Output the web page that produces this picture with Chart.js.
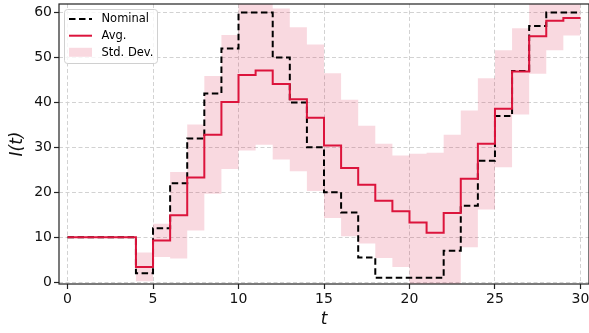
<!DOCTYPE html>
<html>
<head>
<meta charset="utf-8">
<script src="https://cdn.jsdelivr.net/npm/chart.js@4.4.1/dist/chart.umd.min.js"></script>
<style>
  html, body { margin: 0; padding: 0; background: #fff; }
  canvas { display: block; }
</style>
</head>
<body>
<canvas id="chart" width="589" height="333"></canvas>
<script>
// step edges (t) and tick labels
const tEdges = [0,1,2,3,4,5,6,7,8,9,10,11,12,13,14,15,16,17,18,19,20,21,22,23,24,25,26,27,28,29,30]
const xTicks = [0,5,10,15,20,25,30]
const yTicks = [0,10,20,30,40,50,60]

// one value per interval [t, t+1)
const nominal = [10,10,10,10,2,12,22,32,42,52,60,60,50,40,30,20,15.5,5.5,1,1,1,1,7,17,27,37,47,57,60,60]
const avg = [10,10,10,10,3.4,9.3,14.9,23.3,32.8,40.1,46.1,47.1,44.1,40.7,36.6,30.4,25.4,21.7,18.1,15.8,13.3,11.0,15.4,23.0,30.8,38.6,46.9,54.7,58.2,58.8]
const stdDev = [0,0,0,0,3.2,3.7,9.6,11.8,13.1,14.9,16.8,16.5,16.8,16.0,16.3,16.1,15.2,13.1,12.7,12.4,15.3,17.8,17.4,15.2,14.6,13.0,9.6,8.3,6.6,3.9]

const crimson = '#dc143c'
const bandColor = 'rgba(220,20,60,0.16)'

// value i holds on [t_i, t_i+1): points sit on the edges, step drawn horizontal first
function stepPoints(vals) {
    return tEdges.map((t, i) => ({ x: t, y: vals[Math.min(i, vals.length - 1)] }))
}
const upper = avg.map((v, i) => v + stdDev[i])
const lower = avg.map((v, i) => v - stdDev[i])

Chart.defaults.font.family = 'DejaVu Sans'
Chart.defaults.color = '#111'

// matplotlib-like frame (all four spines)
const frame = {
    id: 'frame',
    afterDatasetsDraw(chart) {
        const { ctx, chartArea: a } = chart
        ctx.save()
        ctx.strokeStyle = '#222'
        ctx.lineWidth = 1.2
        ctx.strokeRect(a.left, a.top, a.right - a.left, a.bottom - a.top)
        ctx.restore()
    }
}

// legend box drawn the way matplotlib does it
const mplLegend = {
    id: 'mplLegend',
    afterDraw(chart) {
        const ctx = chart.ctx
        const ds = chart.data.datasets
        ctx.save()
        ctx.beginPath()
        ctx.roundRect(64.5, 9.5, 93, 54, 3)
        ctx.fillStyle = 'rgba(255,255,255,0.8)'
        ctx.fill()
        ctx.strokeStyle = '#d0d0d0'
        ctx.lineWidth = 1
        ctx.stroke()

        const rows = [19, 35.7, 52.3]
        const x0 = 69, x1 = 92
        // Nominal
        ctx.strokeStyle = '#000'
        ctx.lineWidth = 2
        ctx.setLineDash([6.5, 3.5])
        ctx.beginPath(); ctx.moveTo(x0, rows[0]); ctx.lineTo(x1, rows[0]); ctx.stroke()
        // Avg.
        ctx.setLineDash([])
        ctx.strokeStyle = crimson
        ctx.beginPath(); ctx.moveTo(x0, rows[1]); ctx.lineTo(x1, rows[1]); ctx.stroke()
        // Std. Dev.
        ctx.fillStyle = bandColor
        ctx.fillRect(x0, rows[2] - 4.5, x1 - x0, 9)

        ctx.fillStyle = '#000'
        ctx.font = '11.5px "DejaVu Sans"'
        ctx.textBaseline = 'middle'
        const labels = [ds[1].label, ds[0].label, ds[2].label]
        labels.forEach((l, i) => ctx.fillText(l, 101.5, rows[i] + 0.5))
        ctx.restore()
    }
}

const ctx = document.getElementById('chart').getContext('2d')

let myChart = new Chart(ctx, {
    type: 'line',
    data: {
        datasets: [{
            label: 'Avg.',
            data: stepPoints(avg),
            stepped: 'before',
            borderColor: crimson,
            borderWidth: 2,
            pointRadius: 0,
            fill: false
        }, {
            label: 'Nominal',
            data: stepPoints(nominal),
            stepped: 'before',
            borderColor: '#000',
            borderWidth: 2,
            borderDash: [6.5, 3.5],
            pointRadius: 0,
            fill: false
        }, {
            label: 'Std. Dev.',
            data: stepPoints(upper),
            stepped: 'before',
            borderWidth: 0,
            borderColor: 'rgba(0,0,0,0)',
            backgroundColor: bandColor,
            pointRadius: 0,
            fill: '+1'
        }, {
            label: '',
            data: stepPoints(lower),
            stepped: 'before',
            borderWidth: 0,
            borderColor: 'rgba(0,0,0,0)',
            pointRadius: 0,
            fill: false
        }]
    },
    options: {
        responsive: false,
        animation: false,
        devicePixelRatio: 1,
        layout: { padding: { top: 4, right: 0, left: 0, bottom: 0 } },
        plugins: {
            legend: { display: false },
            tooltip: { enabled: false }
        },
        scales: {
            x: {
                type: 'linear',
                min: -0.5,
                max: 30.5,
                afterBuildTicks: s => { s.ticks = xTicks.map(v => ({ value: v })) },
                afterFit: s => { s.height = 49; s.paddingLeft = 0; s.paddingRight = 0 },
                grid: {
                    color: '#d2d2d2',
                    lineWidth: 1,
                    tickLength: 5,
                    tickColor: '#222',
                    tickWidth: 1.2
                },
                border: { display: false, dash: [4, 2.5] },
                ticks: { font: { size: 14 }, padding: 2, maxRotation: 0 },
                title: {
                    display: true,
                    text: 't',
                    font: { size: 17, style: 'italic' },
                    padding: { top: 0, bottom: 3 }
                }
            },
            y: {
                min: -0.4,
                max: 61.9,
                afterBuildTicks: s => { s.ticks = yTicks.map(v => ({ value: v })) },
                afterFit: s => { s.width = 59; s.paddingTop = 0; s.paddingBottom = 0 },
                grid: {
                    color: '#d2d2d2',
                    lineWidth: 1,
                    tickLength: 5,
                    tickColor: '#222',
                    tickWidth: 1.2
                },
                border: { display: false, dash: [4, 2.5] },
                ticks: { font: { size: 14 }, padding: 2 },
                title: {
                    display: true,
                    text: 'I(t)',
                    font: { size: 17, style: 'italic' },
                    padding: { top: 7, bottom: 0 }
                }
            }
        }
    },
    plugins: [frame, mplLegend]
})
</script>
</body>
</html>
